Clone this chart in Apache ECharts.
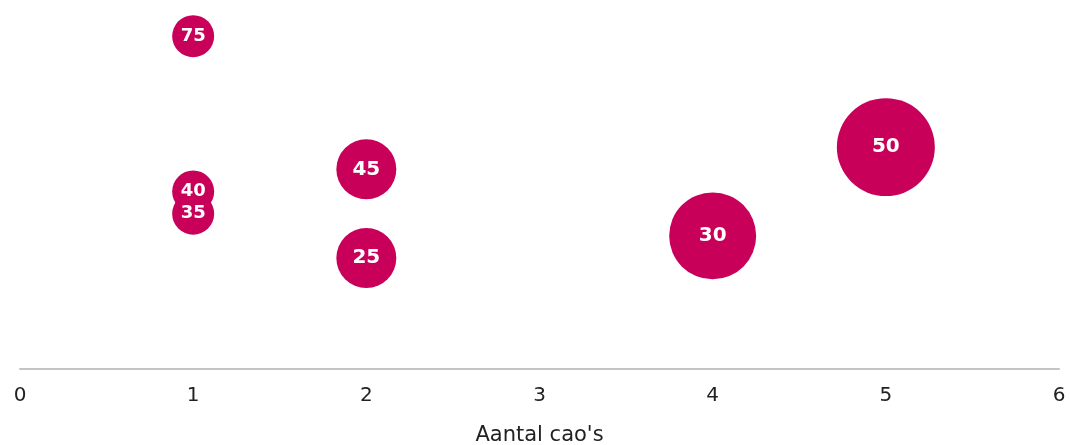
<!DOCTYPE html>
<html><head><meta charset="utf-8">
<script src="https://cdn.jsdelivr.net/npm/echarts@6/dist/echarts.min.js"></script>
<style>html,body{margin:0;padding:0;background:#fff}#c{width:1070px;height:445px}</style>
</head><body><div id="c"></div>
<script>
// number of CAOs (x), value shown (y), bubble weight
const xValues = [1, 1, 1, 2, 2, 4, 5];
const yValues = [75, 40, 35, 45, 25, 30, 50];
const weights = [1, 1, 1, 2.04, 2.04, 4.29, 5.44];
const xTicks = [0, 1, 2, 3, 4, 5, 6];

const data = xValues.map((x, i) => ({
  value: [x, yValues[i], weights[i]],
  label: { fontSize: weights[i] > 1.5 ? 20 : 18 }
}));
const chart = echarts.init(document.getElementById('c'));
chart.setOption({
  animation: false,
  textStyle: { fontFamily: 'DejaVu Sans' },
  grid: { left: 20, right: 11, top: 14, bottom: 76, containLabel: false, outerBoundsMode: 'none' },
  xAxis: {
    type: 'value', min: 0, max: 6, interval: 1,
    name: "Aantal cao's", nameLocation: 'middle', nameGap: 56,
    nameTextStyle: { fontSize: 21, color: '#222', fontFamily: 'DejaVu Sans' },
    axisLine: { show: true, lineStyle: { color: '#c4c4c4', width: 2 } },
    axisTick: { show: false },
    splitLine: { show: false },
    axisLabel: { fontSize: 20, color: '#222', margin: 17, fontFamily: 'DejaVu Sans',
      formatter: v => xTicks.includes(v) ? String(v) : '' }
  },
  yAxis: { type: 'value', min: 0, max: 80, show: false },
  series: [{
    type: 'scatter',
    data: data,
    symbolSize: d => 42 * Math.sqrt(d[2]),
    itemStyle: { color: '#c8005a', opacity: 1 },
    label: {
      show: true, position: 'inside', color: '#fff', fontWeight: 'bold',
      fontFamily: 'DejaVu Sans',
      formatter: p => String(p.value[1])
    }
  }]
});
</script></body></html>
